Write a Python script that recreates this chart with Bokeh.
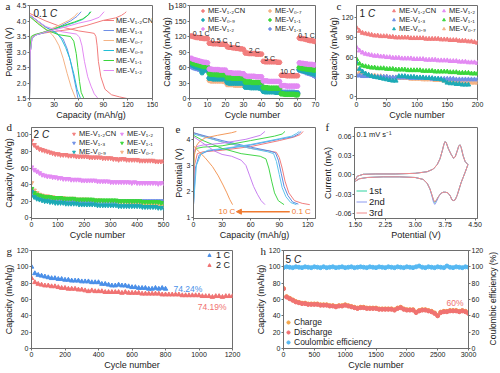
import math
from bokeh.plotting import figure
from bokeh.models import (Range1d, FixedTicker, Legend, LegendItem, Label, Arrow,
                          NormalHead, LinearAxis, Title, PrintfTickFormatter)
from bokeh.layouts import row, column
from bokeh.embed import file_html
from bokeh.resources import INLINE
from bokeh.core.properties import value

FONT = "Liberation Sans"
SERIF = "Liberation Serif"
AXC = "#6e6e6e"
TXT = "#222222"

# ---------------- colours ----------------
C_CN = "#F27D7D"
C_12 = "#E38AF3"
C_11 = "#3AD63A"
C_09 = "#1CAAB6"
C_13 = "#6F8FE6"
C_07 = "#F4B386"

N_CN = "ME-V\u2081.\u2082CN"
N_13 = "ME-V\u2081.\u2083"
N_07 = "ME-V\u2080.\u2087"
N_09 = "ME-V\u2080.\u2089"
N_11 = "ME-V\u2081.\u2081"
N_12 = "ME-V\u2081.\u2082"

# ---------------- panel a : 0.1 C charge/discharge ----------------
a_cn_chg_x = [0, 1, 2.5, 6, 15, 30, 50, 70, 90, 105, 112, 116, 118]
a_cn_chg_y = [1.5, 3.0, 3.45, 3.55, 3.6, 3.66, 3.73, 3.86, 4.02, 4.1, 4.18, 4.25, 4.3]
a_cn_dis_x = [0, 10, 20, 40, 60, 75, 79, 81, 82.5, 84, 87, 92, 100, 110, 119]
a_cn_dis_y = [4.25, 4.12, 4.0, 3.8, 3.68, 3.62, 3.6, 3.5, 3.2, 2.7, 2.2, 1.8, 1.62, 1.55, 1.5]
a_13_chg_x = [0, 1, 3, 8, 20, 35, 50, 58, 63]
a_13_chg_y = [1.5, 3.0, 3.45, 3.55, 3.65, 3.8, 4.0, 4.15, 4.3]
a_13_dis_x = [0, 10, 20, 33, 41, 46, 50, 54, 57, 59]
a_13_dis_y = [4.2, 4.0, 3.8, 3.6, 3.42, 3.1, 2.7, 2.2, 1.8, 1.52]
a_07_chg_x = [0, 1, 3, 8, 20, 35, 48, 55, 59]
a_07_chg_y = [1.5, 3.0, 3.45, 3.55, 3.67, 3.85, 4.02, 4.15, 4.27]
a_07_dis_x = [0, 10, 20, 28, 31.5, 36, 41, 46, 51, 56]
a_07_dis_y = [4.15, 3.95, 3.75, 3.55, 3.42, 3.2, 2.8, 2.3, 1.85, 1.52]
a_09_chg_x = [0, 1, 3, 8, 20, 40, 55, 65, 71, 74]
a_09_chg_y = [1.5, 3.0, 3.45, 3.55, 3.64, 3.82, 3.95, 4.05, 4.18, 4.3]
a_09_dis_x = [0, 10, 20, 33, 39, 44, 49, 54, 58, 62]
a_09_dis_y = [4.2, 4.0, 3.8, 3.62, 3.42, 3.15, 2.8, 2.3, 1.8, 1.52]
a_11_chg_x = [0, 0.5, 2, 6, 20, 40, 55, 65, 72, 75]
a_11_chg_y = [1.5, 3.1, 3.5, 3.56, 3.66, 3.84, 3.97, 4.07, 4.2, 4.3]
a_11_dis_x = [0, 10, 20, 35, 50, 54, 57, 59, 61, 63, 66]
a_11_dis_y = [4.15, 3.92, 3.72, 3.56, 3.5, 3.35, 2.95, 2.5, 2.05, 1.7, 1.52]
a_12_chg_x = [0, 1, 3, 8, 20, 40, 60, 75, 85, 91]
a_12_chg_y = [1.5, 3.0, 3.45, 3.55, 3.65, 3.78, 3.93, 4.02, 4.12, 4.3]
a_12_dis_x = [0, 10, 20, 40, 57, 61, 64, 67, 71, 75, 79, 83]
a_12_dis_y = [4.2, 4.0, 3.82, 3.65, 3.58, 3.48, 3.2, 2.7, 2.2, 1.9, 1.65, 1.52]

# ---------------- panel b : rate capability ----------------
b_cyc = list(range(1, 71))
b_cn = [121, 120, 119, 118, 118, 117, 117, 116, 116, 116,
        107, 107, 106, 106, 106, 106, 105, 105, 105, 105,
        100, 99, 99, 98, 98, 97, 97, 96, 96, 95,
        88, 88, 87, 87, 87, 87, 86, 86, 86, 86,
        72, 71, 71, 71, 71, 71, 71, 71, 70, 70,
        45, 45, 45, 44, 44, 44, 44, 44, 44, 44,
        117, 116, 116, 115, 114, 113, 112, 112, 111, 110]
b_12 = [78, 76, 75, 74, 73, 72, 71, 70, 70, 69,
        57, 57, 56, 56, 56, 56, 55, 55, 55, 55,
        50, 50, 50, 49, 49, 49, 49, 49, 48, 48,
        44, 43, 43, 43, 43, 43, 42, 42, 42, 42,
        34, 34, 34, 33, 33, 33, 33, 33, 33, 33,
        25, 25, 25, 24, 24, 24, 24, 24, 24, 24,
        69, 68, 68, 67, 67, 66, 66, 66, 65, 65]
b_11 = [70, 68, 67, 66, 65, 64, 63, 62, 62, 61,
        48, 47, 47, 47, 46, 46, 46, 46, 46, 46,
        40, 40, 40, 39, 39, 39, 39, 39, 39, 39,
        32, 32, 32, 32, 31, 31, 31, 31, 31, 31,
        21, 21, 21, 20, 20, 20, 20, 20, 20, 20,
        9, 9, 8, 8, 8, 8, 8, 8, 7, 7,
        60, 59, 58, 58, 57, 57, 56, 56, 55, 55]
b_09 = [66, 64, 62, 61, 60, 58, 50, 57, 56, 55,
        39, 39, 38, 38, 38, 38, 38, 38, 38, 38,
        31, 30, 30, 30, 30, 30, 30, 30, 30, 30,
        22, 22, 22, 21, 21, 21, 21, 21, 20, 20,
        14, 13, 13, 13, 13, 13, 13, 12, 12, 12,
        11, 10, 10, 10, 10, 10, 10, 10, 10, 10,
        56, 55, 54, 53, 52, 51, 50, 49, 48, 47]
b_13 = [62, 60, 59, 58, 57, 56, 56, 55, 55, 54,
        40, 40, 40, 39, 39, 39, 39, 39, 39, 39,
        32, 32, 31, 31, 31, 31, 31, 31, 31, 31,
        26, 26, 26, 25, 25, 25, 25, 25, 25, 25,
        15, 15, 14, 14, 14, 14, 14, 14, 14, 14,
        12, 12, 12, 12, 12, 12, 12, 12, 11, 11,
        55, 54, 53, 52, 50, 49, 48, 47, 45, 43]
b_07 = [68, 66, 64, 63, 62, 61, 60, 59, 58, 57,
        35, 34, 34, 34, 34, 34, 34, 34, 33, 33,
        27, 27, 27, 27, 26, 26, 26, 26, 26, 26,
        28, 28, 27, 27, 27, 27, 27, 27, 27, 27,
        18, 18, 18, 18, 17, 17, 17, 17, 17, 17,
        10, 10, 10, 10, 10, 10, 9, 9, 9, 9,
        57, 56, 55, 54, 54, 53, 52, 52, 51, 50]
b_rate_text = ["0.1 C", "0.5 C", "1 C", "2 C", "5 C", "10 C", "0.1 C"]
b_rate_x = [6.5, 16.5, 25, 36, 44.5, 54.5, 65]
b_rate_y = [125, 112, 105, 92, 78, 53, 121]

# ---------------- panel c : 1 C cycling ----------------
c_cyc = list(range(0, 201, 5))
c_cyc_09 = list(range(0, 186, 5))
c_cn = [105, 100, 97, 96, 95, 94, 93, 93, 92, 92, 92, 91, 91, 90, 90, 90, 90, 90, 89, 89,
        89, 89, 89, 88, 88, 88, 88, 88, 87, 87, 87, 86, 86, 86, 85, 85, 85, 84, 84, 83, 82]
c_12 = [75, 70, 67, 65, 64, 63, 62, 62, 61, 61, 60, 60, 59, 59, 59, 58, 58, 58, 58, 57,
        57, 57, 57, 56, 56, 56, 56, 55, 55, 55, 55, 54, 54, 54, 53, 53, 53, 52, 52, 52, 51]
c_11 = [57, 50, 47, 46, 45, 44, 44, 43, 43, 43, 42, 42, 42, 41, 41, 41, 41, 40, 40, 40,
        40, 40, 39, 39, 39, 39, 38, 38, 38, 38, 38, 37, 37, 37, 36, 36, 36, 36, 35, 35, 35]
c_13 = [32, 32, 31, 31, 31, 31, 30, 30, 30, 30, 30, 29, 29, 29, 29, 29, 29, 29, 28, 28,
        28, 28, 28, 28, 28, 27, 27, 27, 27, 27, 27, 27, 27, 26, 26, 26, 26, 26, 26, 26, 26]
c_09 = [52, 42, 38, 35, 33, 31, 30, 29, 28, 27, 26, 25, 24, 24, 31, 31, 31, 30, 30, 30,
        29, 29, 29, 28, 28, 28, 27, 27, 26, 24, 21, 20, 20, 19, 19, 18, 18, 18]
c_07 = [42, 37, 35, 34, 33, 32, 32, 31, 31, 30, 30, 29, 29, 29, 28, 28, 28, 28, 27, 27,
        27, 27, 26, 26, 26, 26, 25, 25, 25, 24, 24, 24, 23, 23, 23, 22, 22, 22, 21, 21, 21]

# ---------------- panel d : 2 C cycling ----------------
d_cyc = list(range(0, 501, 10))
d_cn = [93, 88, 85, 83, 82, 81, 80, 79, 78, 77, 77, 76, 76, 76, 75, 75, 75, 74, 74, 74,
        74, 74, 73, 73, 73, 73, 73, 72, 72, 72, 72, 71, 71, 70, 71, 71, 70, 70, 70, 70,
        70, 69, 69, 69, 69, 69, 69, 68, 68, 68, 68]
d_12 = [61, 58, 56, 54, 52, 51, 50, 50, 49, 49, 48, 48, 47, 47, 47, 46, 46, 46, 46, 45,
        45, 45, 45, 45, 45, 44, 44, 44, 44, 44, 43, 43, 43, 43, 43, 43, 43, 43, 42, 43,
        42, 42, 42, 42, 42, 42, 42, 42, 41, 42, 42]
d_13 = [32, 27, 25, 24, 23, 22, 22, 22, 21, 21, 21, 21, 21, 21, 21, 21, 20, 20, 20, 20,
        20, 20, 20, 20, 20, 20, 20, 20, 20, 20, 20, 20, 20, 20, 20, 20, 20, 20, 20, 20,
        20, 20, 20, 20, 20, 20, 20, 20, 20, 20, 20]
d_11 = [35, 30, 28, 27, 26, 25, 25, 25, 24, 24, 24, 24, 23, 23, 23, 23, 23, 22, 22, 22,
        22, 22, 22, 22, 21, 21, 21, 21, 21, 21, 21, 21, 21, 20, 20, 20, 20, 20, 20, 20,
        20, 20, 19, 19, 19, 19, 19, 19, 19, 18, 18]
d_09 = [31, 25, 23, 22, 21, 20, 20, 19, 19, 18, 18, 18, 18, 17, 17, 17, 17, 17, 16, 16,
        16, 16, 16, 16, 16, 15, 15, 15, 15, 15, 15, 15, 15, 14, 14, 14, 14, 14, 14, 14,
        14, 14, 13, 13, 13, 13, 13, 13, 12, 12, 12]
d_07 = [42, 33, 30, 28, 27, 26, 26, 25, 25, 24, 24, 24, 24, 23, 23, 23, 23, 22, 22, 22,
        22, 22, 21, 21, 21, 21, 21, 20, 20, 20, 20, 20, 19, 19, 19, 19, 19, 18, 18, 18,
        18, 17, 17, 17, 17, 16, 16, 16, 16, 15, 15]

# ---------------- panel e : ME-V1.2CN at different rates ----------------
e_rates = ["0.1 C", "0.5 C", "1 C", "2 C", "5 C", "10 C"]
e_chg_x = [[0, 1, 4, 10, 30, 60, 90, 105, 112, 115],
           [0, 2, 6, 15, 30, 60, 90, 105, 110, 113],
           [0, 3, 8, 15, 30, 60, 90, 103, 108, 111],
           [0, 1, 3, 10, 30, 60, 85, 93, 96],
           [0, 1, 3, 10, 30, 55, 70, 75],
           [0, 1, 3, 6, 12, 25, 40, 45]]
e_chg_y = [[1.5, 3.0, 3.45, 3.52, 3.58, 3.72, 3.95, 4.08, 4.18, 4.3],
           [1.5, 2.9, 3.4, 3.55, 3.62, 3.78, 4.0, 4.1, 4.2, 4.3],
           [1.5, 3.0, 3.45, 3.58, 3.64, 3.8, 4.02, 4.12, 4.22, 4.3],
           [2.9, 3.5, 3.65, 3.7, 3.75, 3.95, 4.12, 4.2, 4.3],
           [3.3, 3.6, 3.72, 3.78, 3.85, 4.0, 4.15, 4.3],
           [3.0, 3.4, 3.75, 3.9, 4.05, 4.15, 4.25, 4.3]]
e_dis_x = [[0, 10, 30, 60, 80, 87, 90, 93, 96, 100, 106, 114, 122],
           [0, 10, 30, 60, 80, 86, 89, 92, 95, 99, 104, 110],
           [0, 10, 30, 60, 78, 84, 87, 90, 93, 97, 102, 108],
           [0, 10, 30, 50, 70, 76, 79, 82, 85, 89, 95],
           [0, 10, 22, 30, 40, 50, 55, 59, 63, 67, 71, 75],
           [0, 5, 12, 20, 26, 31, 35, 38, 41]]
e_dis_y = [[4.25, 4.12, 3.9, 3.65, 3.55, 3.5, 3.3, 2.9, 2.4, 1.95, 1.65, 1.55, 1.5],
           [4.25, 4.15, 3.95, 3.7, 3.55, 3.48, 3.2, 2.7, 2.2, 1.85, 1.6, 1.52],
           [4.2, 4.1, 3.9, 3.65, 3.52, 3.45, 3.15, 2.65, 2.15, 1.8, 1.58, 1.5],
           [4.15, 3.95, 3.65, 3.45, 3.35, 3.25, 2.9, 2.4, 1.95, 1.65, 1.5],
           [4.1, 3.85, 3.55, 3.42, 3.35, 3.2, 3.0, 2.6, 2.2, 1.9, 1.65, 1.5],
           [3.75, 3.55, 3.3, 2.95, 2.6, 2.25, 1.95, 1.7, 1.5]]
e_colors = ["#F07C7C", "#5B8BE0", "#5CC3EE", "#44D64A", "#C880F0", "#F39A5C"]
e_arrow_x = [101, 45]
e_arrow_y = 1.23

# ---------------- panel f : CV ----------------
cv_v = [1.50, 1.55, 1.70, 2.00, 2.50, 3.00, 3.30, 3.45, 3.55, 3.62, 3.68, 3.72, 3.75,
        3.78, 3.83, 3.90, 3.96, 4.00, 4.05, 4.09, 4.12, 4.15, 4.20, 4.25, 4.32,
        4.25, 4.20, 4.15, 4.10, 4.05, 4.00, 3.96, 3.92, 3.88, 3.82, 3.76, 3.70, 3.64,
        3.58, 3.53, 3.49, 3.46, 3.42, 3.37, 3.30, 3.20, 3.00, 2.60, 2.20, 1.80, 1.60, 1.50]
cv_i1 = [-0.008, -0.002, 0.001, 0.0015, 0.0015, 0.0025, 0.005, 0.009, 0.016, 0.025, 0.038,
         0.048, 0.052, 0.050, 0.041, 0.032, 0.026, 0.028, 0.037, 0.045, 0.047, 0.043, 0.030,
         0.021, 0.016,
         0.004, -0.004, -0.012, -0.022, -0.032, -0.039, -0.040, -0.039, -0.033, -0.028,
         -0.027, -0.027, -0.029, -0.034, -0.040, -0.043, -0.040, -0.032, -0.022, -0.013,
         -0.007, -0.004, -0.003, -0.003, -0.004, -0.006, -0.010]
cv_i2 = [-0.008, -0.002, 0.001, 0.0015, 0.0015, 0.0025, 0.005, 0.009, 0.016, 0.025, 0.038,
         0.048, 0.052, 0.050, 0.041, 0.032, 0.026, 0.028, 0.037, 0.045, 0.047, 0.043, 0.030,
         0.021, 0.016,
         0.004, -0.004, -0.012, -0.022, -0.032, -0.039, -0.040, -0.039, -0.033, -0.028,
         -0.027, -0.027, -0.029, -0.035, -0.042, -0.046, -0.043, -0.033, -0.022, -0.013,
         -0.007, -0.004, -0.003, -0.003, -0.004, -0.006, -0.010]
cv_i3 = [-0.008, -0.002, 0.001, 0.0015, 0.0015, 0.0025, 0.005, 0.009, 0.016, 0.025, 0.038,
         0.048, 0.052, 0.050, 0.041, 0.032, 0.026, 0.028, 0.037, 0.045, 0.047, 0.043, 0.030,
         0.021, 0.016,
         0.004, -0.004, -0.012, -0.022, -0.032, -0.039, -0.040, -0.039, -0.033, -0.028,
         -0.027, -0.027, -0.029, -0.034, -0.039, -0.042, -0.039, -0.031, -0.022, -0.013,
         -0.007, -0.004, -0.003, -0.003, -0.004, -0.006, -0.010]

# ---------------- panel g : long cycling ----------------
g_cyc_1c = list(range(0, 801, 20))
g_cyc_2c = list(range(0, 1201, 20))
g_1c = [100, 92, 90, 89, 88, 87, 86, 86, 85, 85, 84, 84, 83, 83, 83, 82, 82, 82, 81, 81,
        81, 79, 79, 78, 77, 77, 78, 77, 77, 76, 75, 75, 74, 74, 74, 73, 73, 74, 73, 74, 73]
g_2c = [86, 81, 79, 78, 77, 77, 76, 76, 75, 74, 74, 73, 73, 73, 72, 72, 71, 70, 71, 70,
        70, 70, 69, 69, 69, 69, 69, 68, 69, 68, 68, 68, 68, 67, 67, 67, 67, 67, 67, 66,
        66, 66, 66, 66, 66, 65, 65, 65, 65, 65, 65, 64, 64, 64, 63, 64, 64, 63, 64, 64, 64]

# ---------------- panel h : 5 C cycling ----------------
h_cyc = list(range(0, 3001, 50))
h_dis = [73, 63, 61, 59, 57, 56, 55, 55, 54, 54, 54, 54, 53, 53, 53, 52, 52, 51, 52, 52,
         53, 52, 51, 50, 49, 50, 50, 49, 49, 49, 49, 48, 48, 48, 48, 48, 47, 49, 50, 48,
         47, 47, 47, 44, 46, 47, 47, 46, 45, 43, 40, 44, 45, 45, 46, 46, 46, 45, 46, 45, 43]
h_chg = [73.5, 63.5, 61.5, 59.5, 57.5, 56.5, 55.5, 55.5, 54.5, 54.5, 54.5, 54.5, 53.5, 53.5,
         53.5, 52.5, 52.5, 51.5, 52.5, 52.5, 53.5, 52.5, 51.5, 50.5, 49.5, 50.5, 50.5, 49.5,
         49.5, 49.5, 49.5, 48.5, 48.5, 48.5, 48.5, 48.5, 47.5, 49.5, 50.5, 48.5, 47.5, 47.5,
         47.5, 44.5, 46.5, 47.5, 47.5, 46.5, 45.5, 43.5, 40.5, 44.5, 45.5, 45.5, 46.5, 46.5,
         46.5, 45.5, 46.5, 45.5, 43.5]
h_ce = [99, 100, 99.5, 99, 100, 99.5, 99, 100, 99.5, 99, 100, 99.5, 99, 100, 99, 99.5, 100,
        99, 99.5, 100, 99, 99.5, 100, 99, 99.5, 100, 99.5, 99, 100, 99.5, 99, 100, 99.5, 99,
        100, 99.5, 99, 100, 99.5, 99, 100, 99.5, 99, 100, 101, 99.5, 99, 100, 99.5, 99, 100,
        99.5, 99, 101, 99.5, 99, 100, 99.5, 99, 100, 99.5]


# ---------------- helpers ----------------
def mk(w, h, xr, yr, L, R, T, B):
    p = figure(width=w, height=h, x_range=Range1d(*xr), y_range=Range1d(*yr),
               output_backend="svg", toolbar_location=None,
               min_border_left=L, min_border_right=R, min_border_top=T, min_border_bottom=B)
    p.grid.visible = False
    p.outline_line_color = AXC
    p.outline_line_width = 1
    p.background_fill_color = "white"
    p.border_fill_color = "white"
    return p


def fmt_axis(ax, label, ticks, fmt=None):
    ax.axis_label = label
    ax.ticker = FixedTicker(ticks=ticks, minor_ticks=[])
    if fmt:
        ax.formatter = PrintfTickFormatter(format=fmt)
    ax.axis_label_text_font = FONT
    ax.axis_label_text_font_size = "9px"
    ax.axis_label_text_font_style = "normal"
    ax.axis_label_text_color = TXT
    ax.axis_label_standoff = 0
    ax.major_label_text_font = FONT
    ax.major_label_text_font_size = "7px"
    ax.major_label_text_color = TXT
    ax.major_label_standoff = 1
    ax.major_tick_out = 2
    ax.major_tick_in = 0
    ax.minor_tick_line_color = None
    ax.axis_line_color = AXC
    ax.major_tick_line_color = AXC


def axes(p, xl, yl, xt, yt, xf=None, yf=None):
    fmt_axis(p.xaxis[0], xl, xt, xf)
    fmt_axis(p.yaxis[0], yl, yt, yf)


def letter(p, t, xo, so):
    p.add_layout(Title(text=t, align="left", offset=xo, standoff=so, text_font=SERIF,
                       text_font_size="11px", text_font_style="normal", text_color=TXT,
                       vertical_align="bottom"), "above")


def note(p, x, y, t, size="8px", color=TXT, style="normal", xo=0, yo=0,
         align="left", baseline="middle", angle=0):
    p.add_layout(Label(x=x, y=y, x_offset=xo, y_offset=yo, text=t, text_font=FONT,
                       text_font_size=size, text_color=color, text_font_style=style,
                       text_align=align, text_baseline=baseline, angle=angle))


def rate_tag(p, num, cx, xo, yo, size="10px"):
    x0, y0 = p.x_range.start, p.y_range.end
    note(p, x0, y0, num, size=size, xo=xo, yo=yo)
    note(p, x0, y0, "C", size=size, style="italic", xo=xo + cx, yo=yo)


def legend(p, items, loc, size="7.5px", lh=9, gw=7, gh=9, spacing=0, standoff=2):
    lg = Legend(items=[LegendItem(label=value(t), renderers=[r]) for t, r in items],
                location=loc, label_text_font=FONT, label_text_font_size=size,
                label_text_color=TXT, label_height=lh, glyph_height=gh, glyph_width=gw,
                spacing=spacing, label_standoff=standoff, padding=0, margin=0,
                background_fill_alpha=0, border_line_alpha=0)
    p.add_layout(lg)
    return lg


# ---------------- panel a ----------------
pa = mk(158, 122, (0, 150), (1.5, 4.5), 25, 6, 5, 22)
axes(pa, "Capacity (mAh/g)", "Potential (V)", [0, 30, 60, 90, 120, 150],
     [1.5, 2.0, 2.5, 3.0, 3.5, 4.0, 4.5], yf="%.1f")
a_series = [(N_CN, C_CN, a_cn_chg_x, a_cn_chg_y, a_cn_dis_x, a_cn_dis_y),
            (N_13, C_13, a_13_chg_x, a_13_chg_y, a_13_dis_x, a_13_dis_y),
            (N_07, C_07, a_07_chg_x, a_07_chg_y, a_07_dis_x, a_07_dis_y),
            (N_09, "#22BFD6", a_09_chg_x, a_09_chg_y, a_09_dis_x, a_09_dis_y),
            (N_11, C_11, a_11_chg_x, a_11_chg_y, a_11_dis_x, a_11_dis_y),
            (N_12, C_12, a_12_chg_x, a_12_chg_y, a_12_dis_x, a_12_dis_y)]
a_items = []
for name, col, cx, cy, dx, dy in a_series:
    r = pa.line(cx, cy, line_color=col, line_width=1)
    pa.line(dx, dy, line_color=col, line_width=1)
    a_items.append((name, r))
legend(pa, a_items, (74, 23), size="7.5px", lh=10, gw=11, gh=10)
rate_tag(pa, "0.1 ", 16.5, 4, -8)
letter(pa, "a", -24, -12)

# ---------------- panel b ----------------
pb = mk(167, 122, (0, 70), (0, 180), 25, 10, 5, 22)
axes(pb, "Cycle number", "Capacity (mAh/g)", [0, 10, 20, 30, 40, 50, 60, 70],
     [0, 30, 60, 90, 120, 150, 180])
b_r = {}
for key, col, ys in [("07", C_07, b_07), ("13", C_13, b_13), ("09", C_09, b_09),
                     ("11", C_11, b_11), ("12", C_12, b_12), ("cn", C_CN, b_cn)]:
    b_r[key] = pb.scatter(b_cyc, ys, marker="hex", size=5, fill_color=col, line_color=col)
legend(pb, [(N_CN, b_r["cn"]), (N_09, b_r["09"]), (N_12, b_r["12"])], (10, 65))
legend(pb, [(N_07, b_r["07"]), (N_11, b_r["11"]), (N_13, b_r["13"])], (77, 65))
for t, x, y in zip(b_rate_text, b_rate_x, b_rate_y):
    note(pb, x, y, t, size="7px", align="center")
letter(pb, "b", -21, -12)

# ---------------- panel c ----------------
pc = mk(174, 122, (0, 200), (-3, 139), 25, 22, 5, 22)
axes(pc, "Cycle number", "Capacity (mAh/g)", [0, 50, 100, 150, 200], [0, 30, 60, 90, 120])
c_r = {}
for key, col, xs, ys in [("07", C_07, c_cyc, c_07), ("13", C_13, c_cyc, c_13),
                         ("09", C_09, c_cyc_09, c_09), ("11", C_11, c_cyc, c_11),
                         ("12", C_12, c_cyc, c_12), ("cn", C_CN, c_cyc, c_cn)]:
    c_r[key] = pc.scatter(xs, ys, marker="triangle", size=4.5, fill_color=col, line_color=col)
legend(pc, [(N_CN, c_r["cn"]), (N_13, c_r["13"]), (N_09, c_r["09"])], (34, 65))
legend(pc, [(N_12, c_r["12"]), (N_11, c_r["11"]), (N_07, c_r["07"])], (84, 65))
rate_tag(pc, "1 ", 8.5, 3, -8)
letter(pc, "c", -20, -12)

# ---------------- panel d ----------------
pd_ = mk(170, 124, (0, 500), (-1, 109), 27, 7, 5, 23)
axes(pd_, "Cycle number", "Capacity (mAh/g)", [0, 100, 200, 300, 400, 500],
     [0, 20, 40, 60, 80, 100])
d_r = {}
for key, col, ys in [("07", C_07, d_07), ("13", C_13, d_13), ("11", C_11, d_11),
                     ("09", C_09, d_09), ("12", C_12, d_12), ("cn", C_CN, d_cn)]:
    d_r[key] = pd_.scatter(d_cyc, ys, marker="inverted_triangle", size=4.5,
                           fill_color=col, line_color=col)
legend(pd_, [(N_CN, d_r["cn"]), (N_13, d_r["13"]), (N_09, d_r["09"])], (39, 62))
legend(pd_, [(N_12, d_r["12"]), (N_11, d_r["11"]), (N_07, d_r["07"])], (87, 62))
rate_tag(pd_, "2 ", 8.5, 2, -7)
letter(pd_, "d", -25, -10)

# ---------------- panel e ----------------
pe = mk(149, 124, (0, 128), (0.97, 4.45), 18, 4, 5, 23)
axes(pe, "Capacity (mAh/g)", "Potential (V)", [0, 30, 60, 90, 120], [1, 2, 3, 4])
for cx, cy, dx, dy, col in zip(e_chg_x, e_chg_y, e_dis_x, e_dis_y, e_colors):
    pe.line(cx, cy, line_color=col, line_width=1)
    pe.line(dx, dy, line_color=col, line_width=1)
ORA = "#F07A30"
pe.add_layout(Arrow(end=NormalHead(size=5, fill_color=ORA, line_color=ORA),
                    x_start=e_arrow_x[0], y_start=e_arrow_y, x_end=e_arrow_x[1],
                    y_end=e_arrow_y, line_color=ORA, line_width=1.5))
note(pe, e_arrow_x[1], e_arrow_y, e_rates[-1], size="8px", color=ORA, align="right", xo=-1)
note(pe, e_arrow_x[0], e_arrow_y, e_rates[0], size="8px", color=ORA, align="left", xo=2)
letter(pe, "e", -18, -10)

# ---------------- panel f ----------------
pf = mk(180, 124, (1.48, 4.56), (-0.068, 0.074), 31, 22, 5, 28)
axes(pf, "Potential (V)", "Current (mA)", [1.5, 2.25, 3.0, 3.75, 4.5],
     [-0.06, -0.03, 0.0, 0.03, 0.06], xf="%.2f", yf="%.2f")
r1 = pf.line(cv_v, cv_i1, line_color="#2ED3A0", line_width=1)
r2 = pf.line(cv_v, cv_i2, line_color="#8C9AF0", line_width=1)
r3 = pf.line(cv_v, cv_i3, line_color="#F28A8A", line_width=1)
legend(pf, [("1st", r1), ("2nd", r2), ("3rd", r3)], (2, 0), size="9.5px", lh=11, gw=11,
       gh=11, standoff=2)
note(pf, 1.48, 0.074, "0.1 mV s\u207b\u00b9", size="7.5px", xo=2, yo=-7)
letter(pf, "f", -29, -10)

# ---------------- panel g ----------------
pg = mk(252, 126, (0, 1200), (0, 120), 27, 20, 4, 21)
axes(pg, "Cycle number", "Capacity (mAh/g)", [0, 200, 400, 600, 800, 1000, 1200],
     [0, 20, 40, 60, 80, 100, 120])
G_BLUE = "#4A8FE8"
G_RED = "#F07272"
rg2 = pg.scatter(g_cyc_2c, g_2c, marker="triangle", size=4.5, fill_color=G_RED, line_color=G_RED)
rg1 = pg.scatter(g_cyc_1c, g_1c, marker="triangle", size=4.5, fill_color=G_BLUE, line_color=G_BLUE)
legend(pg, [("1 C", rg1), ("2 C", rg2)], (174, 78), size="9px", lh=10, gw=8, gh=10, standoff=3)
note(pg, g_cyc_1c[-1], g_1c[-1], "74.24%", size="8.5px", color=G_BLUE, xo=8)
note(pg, g_cyc_2c[-1], g_2c[-1], "74.19%", size="8.5px", color=G_RED, align="right",
     xo=-6, yo=-11)
letter(pg, "g", -25, -12)

# ---------------- panel h ----------------
ph = mk(234, 126, (0, 3000), (0, 120), 25, 14, 4, 21)
ph.extra_y_ranges = {"ce": Range1d(0, 120)}
ph.add_layout(LinearAxis(y_range_name="ce"), "right")
axes(ph, "Cycle number", "Capacity (mAh/g)", [0, 500, 1000, 1500, 2000, 2500, 3000],
     [0, 20, 40, 60, 80, 100, 120])
fmt_axis(ph.yaxis[1], None, [0, 20, 40, 60, 80, 100, 120])
H_ORA = "#F5A64A"
H_RED = "#F07272"
H_BLU = "#55B8F2"
rh1 = ph.scatter(h_cyc, h_chg, marker="circle", size=4, fill_color=H_ORA, line_color=H_ORA)
rh2 = ph.scatter(h_cyc, h_dis, marker="circle", size=4, fill_color=H_RED, line_color=H_RED)
rh3 = ph.scatter(h_cyc, h_ce, marker="circle", size=4, fill_color=H_BLU, line_color=H_BLU,
                 y_range_name="ce")
legend(ph, [("Charge", rh1), ("Discharge", rh2), ("Coulombic efficiency", rh3)], (1, 1),
       size="8.5px", lh=10, gw=8, gh=10, standoff=2)
note(ph, h_cyc[-1], h_dis[-1], "60%", size="8.5px", color=H_RED, align="right", xo=-5, yo=10)
rate_tag(ph, "5 ", 8.5, 2, -9)
letter(ph, "h", -23, -12)

# right-hand axis title of panel h (reads bottom-to-top, as in the reference)
pr = figure(width=13, height=126, x_range=Range1d(0, 1), y_range=Range1d(0, 126),
            output_backend="svg", toolbar_location=None, x_axis_type=None, y_axis_type=None,
            min_border_left=0, min_border_right=0, min_border_top=0, min_border_bottom=0)
pr.grid.visible = False
pr.outline_line_color = None
pr.background_fill_color = "white"
pr.border_fill_color = "white"
note(pr, 0.5, 64, "Coulombic efficiency (%)", size="8.5px", align="center",
     baseline="middle", angle=math.pi / 2)

layout = column(row(pa, pb, pc), row(pd_, pe, pf), row(pg, ph, pr))
open("out.html", "w").write(file_html(layout, INLINE))
